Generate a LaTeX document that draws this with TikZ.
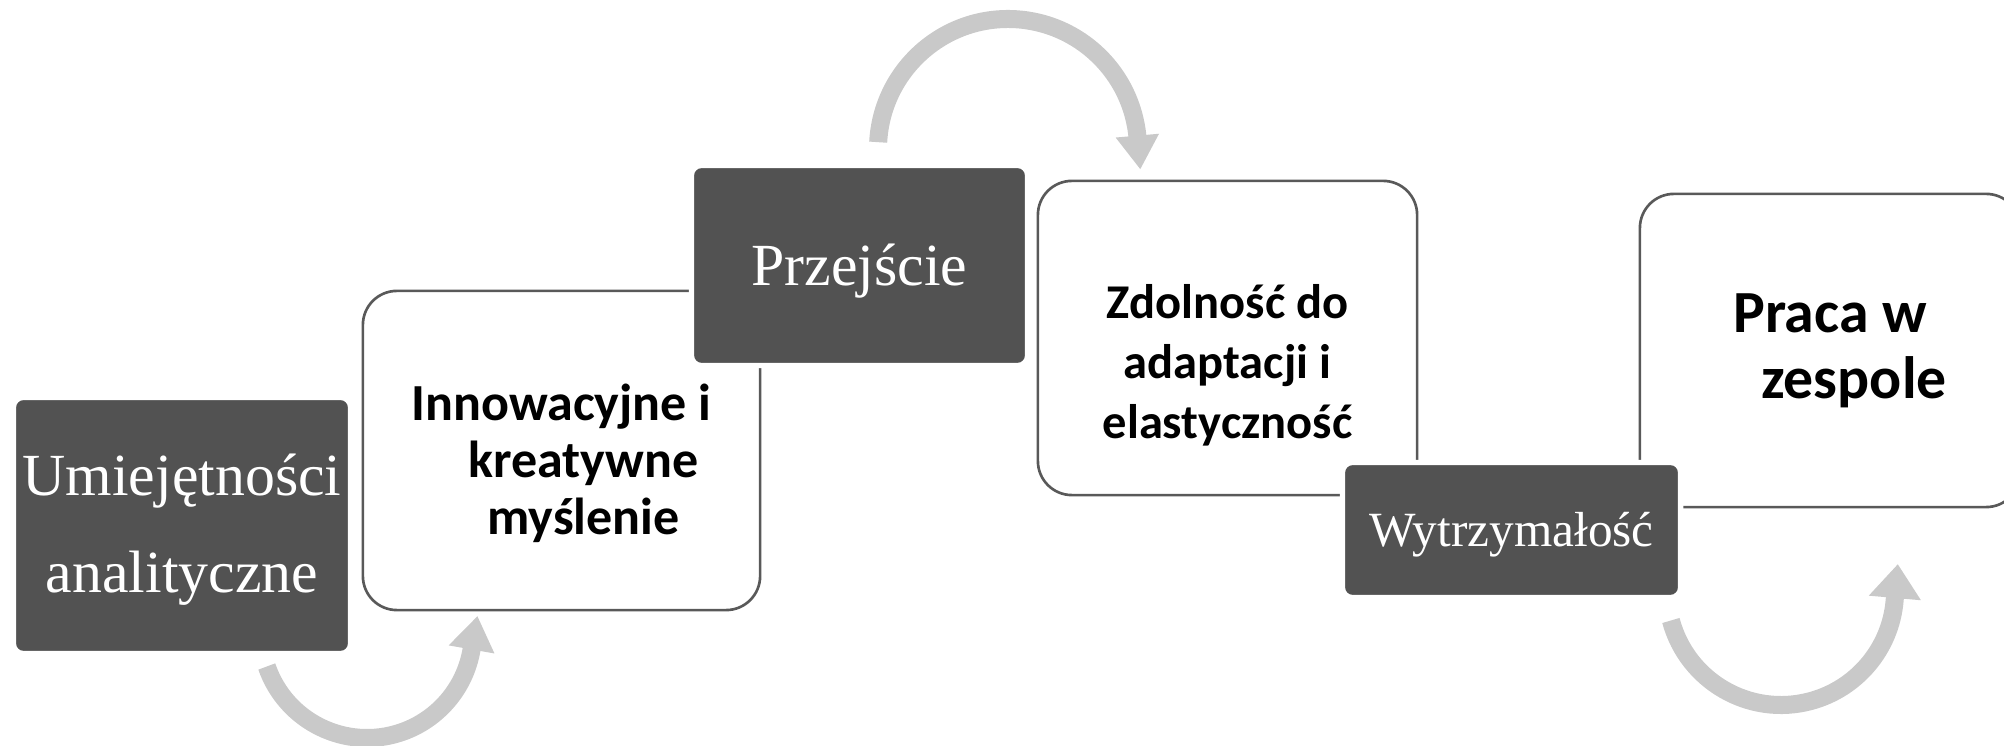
\documentclass[tikz,border=0pt]{standalone}
\usepackage{fontspec}
\setmainfont{Liberation Serif}
\newfontfamily\calibri{Carlito}
\usetikzlibrary{arrows.meta}

\definecolor{boxdark}{RGB}{82,82,82}
\definecolor{boxline}{RGB}{89,89,89}
\definecolor{flowgray}{RGB}{201,201,201}

\begin{document}
\begin{tikzpicture}[x=0.01cm,y=0.01cm,
	lightbox/.style={rectangle,rounded corners=0.34cm,draw=boxline,line width=0.75pt,fill=white},
	darkbox/.style={rectangle,rounded corners=0.1cm,draw=white,line width=1.5pt,fill=boxdark},
	boldtext/.style={align=center,font=\calibri\bfseries},
	seriftext/.style={align=center,text=white},
	flow/.style={draw=flowgray,line width=0.18cm,-{Triangle[width=#1,length=0.34cm]}},
	flow/.default=0.44cm]
	
	\useasboundingbox (0,0) rectangle (2004,746);
	
	% white boxes first, the dark ones lie on top
	\begin{scope}[every node/.style={inner sep=0pt}]
	\node[lightbox,minimum width=3.97cm,minimum height=3.19cm] (node 2) at (561.5,295.5) {};
	\node[lightbox,minimum width=3.79cm,minimum height=3.14cm] (node 4) at (1227.5,408) {};
	\node[lightbox,minimum width=3.8cm,minimum height=3.13cm] (node 6) at (1830,395.5) {};
	
	\node[darkbox,minimum width=3.37cm,minimum height=2.56cm] (node 1) at (182,220.5) {};
	\node[darkbox,minimum width=3.36cm,minimum height=2.0cm] (node 3) at (859.5,480.5) {};
	\node[darkbox,minimum width=3.38cm,minimum height=1.35cm] (node 5) at (1511.5,216) {};
	
	\node[boldtext,font=\calibri\bfseries\fontsize{14.8}{16.2}\selectfont] (text 2) at ([yshift=-0.13cm]node 2.center) {Innowacyjne i\\\hspace*{0.44cm}kreatywne\\\hspace*{0.44cm}myślenie};
	\node[boldtext,font=\calibri\bfseries\fontsize{13.8}{17}\selectfont] (text 4) at ([yshift=-0.27cm]node 4.center) {Zdolność do\\adaptacji i\\elastyczność};
	\node[boldtext,font=\calibri\bfseries\fontsize{17}{18.8}\selectfont] (text 6) at (node 6.center) {Praca w\\\hspace*{0.48cm}zespole};
	
	\node[seriftext,font=\fontsize{17}{27.5}\selectfont] (text 1) at ([yshift=-0.04cm]node 1.center) {Umiejętności\\analityczne};
	\node[seriftext,font=\fontsize{17}{20}\selectfont] (text 3) at ([yshift=-0.06cm]node 3.center) {Przejście};
	\node[seriftext,font=\fontsize{14}{17}\selectfont] (text 5) at ([yshift=-0.05cm]node 5.center) {Wytrzymałość};
	\end{scope}
	
	\begin{scope}
	\coordinate (turn 1) at (367,114);
	\coordinate (turn 2) at (1008,597);
	\coordinate (turn 3) at (1781,155);
	\draw[flow] ([shift={(199:106)}]turn 1) arc[start angle=199,end angle=350,radius=106] -- ++(80:35);
	\draw[flow=0.41cm] ([shift={(177:130)}]turn 2) arc[start angle=177,end angle=5,radius=130] -- ++(-85:32);
	\draw[flow=0.5cm] ([shift={(195:114)}]turn 3) arc[start angle=195,end angle=355,radius=114] -- ++(85:37);
	\end{scope}
	
\end{tikzpicture}
\end{document}
